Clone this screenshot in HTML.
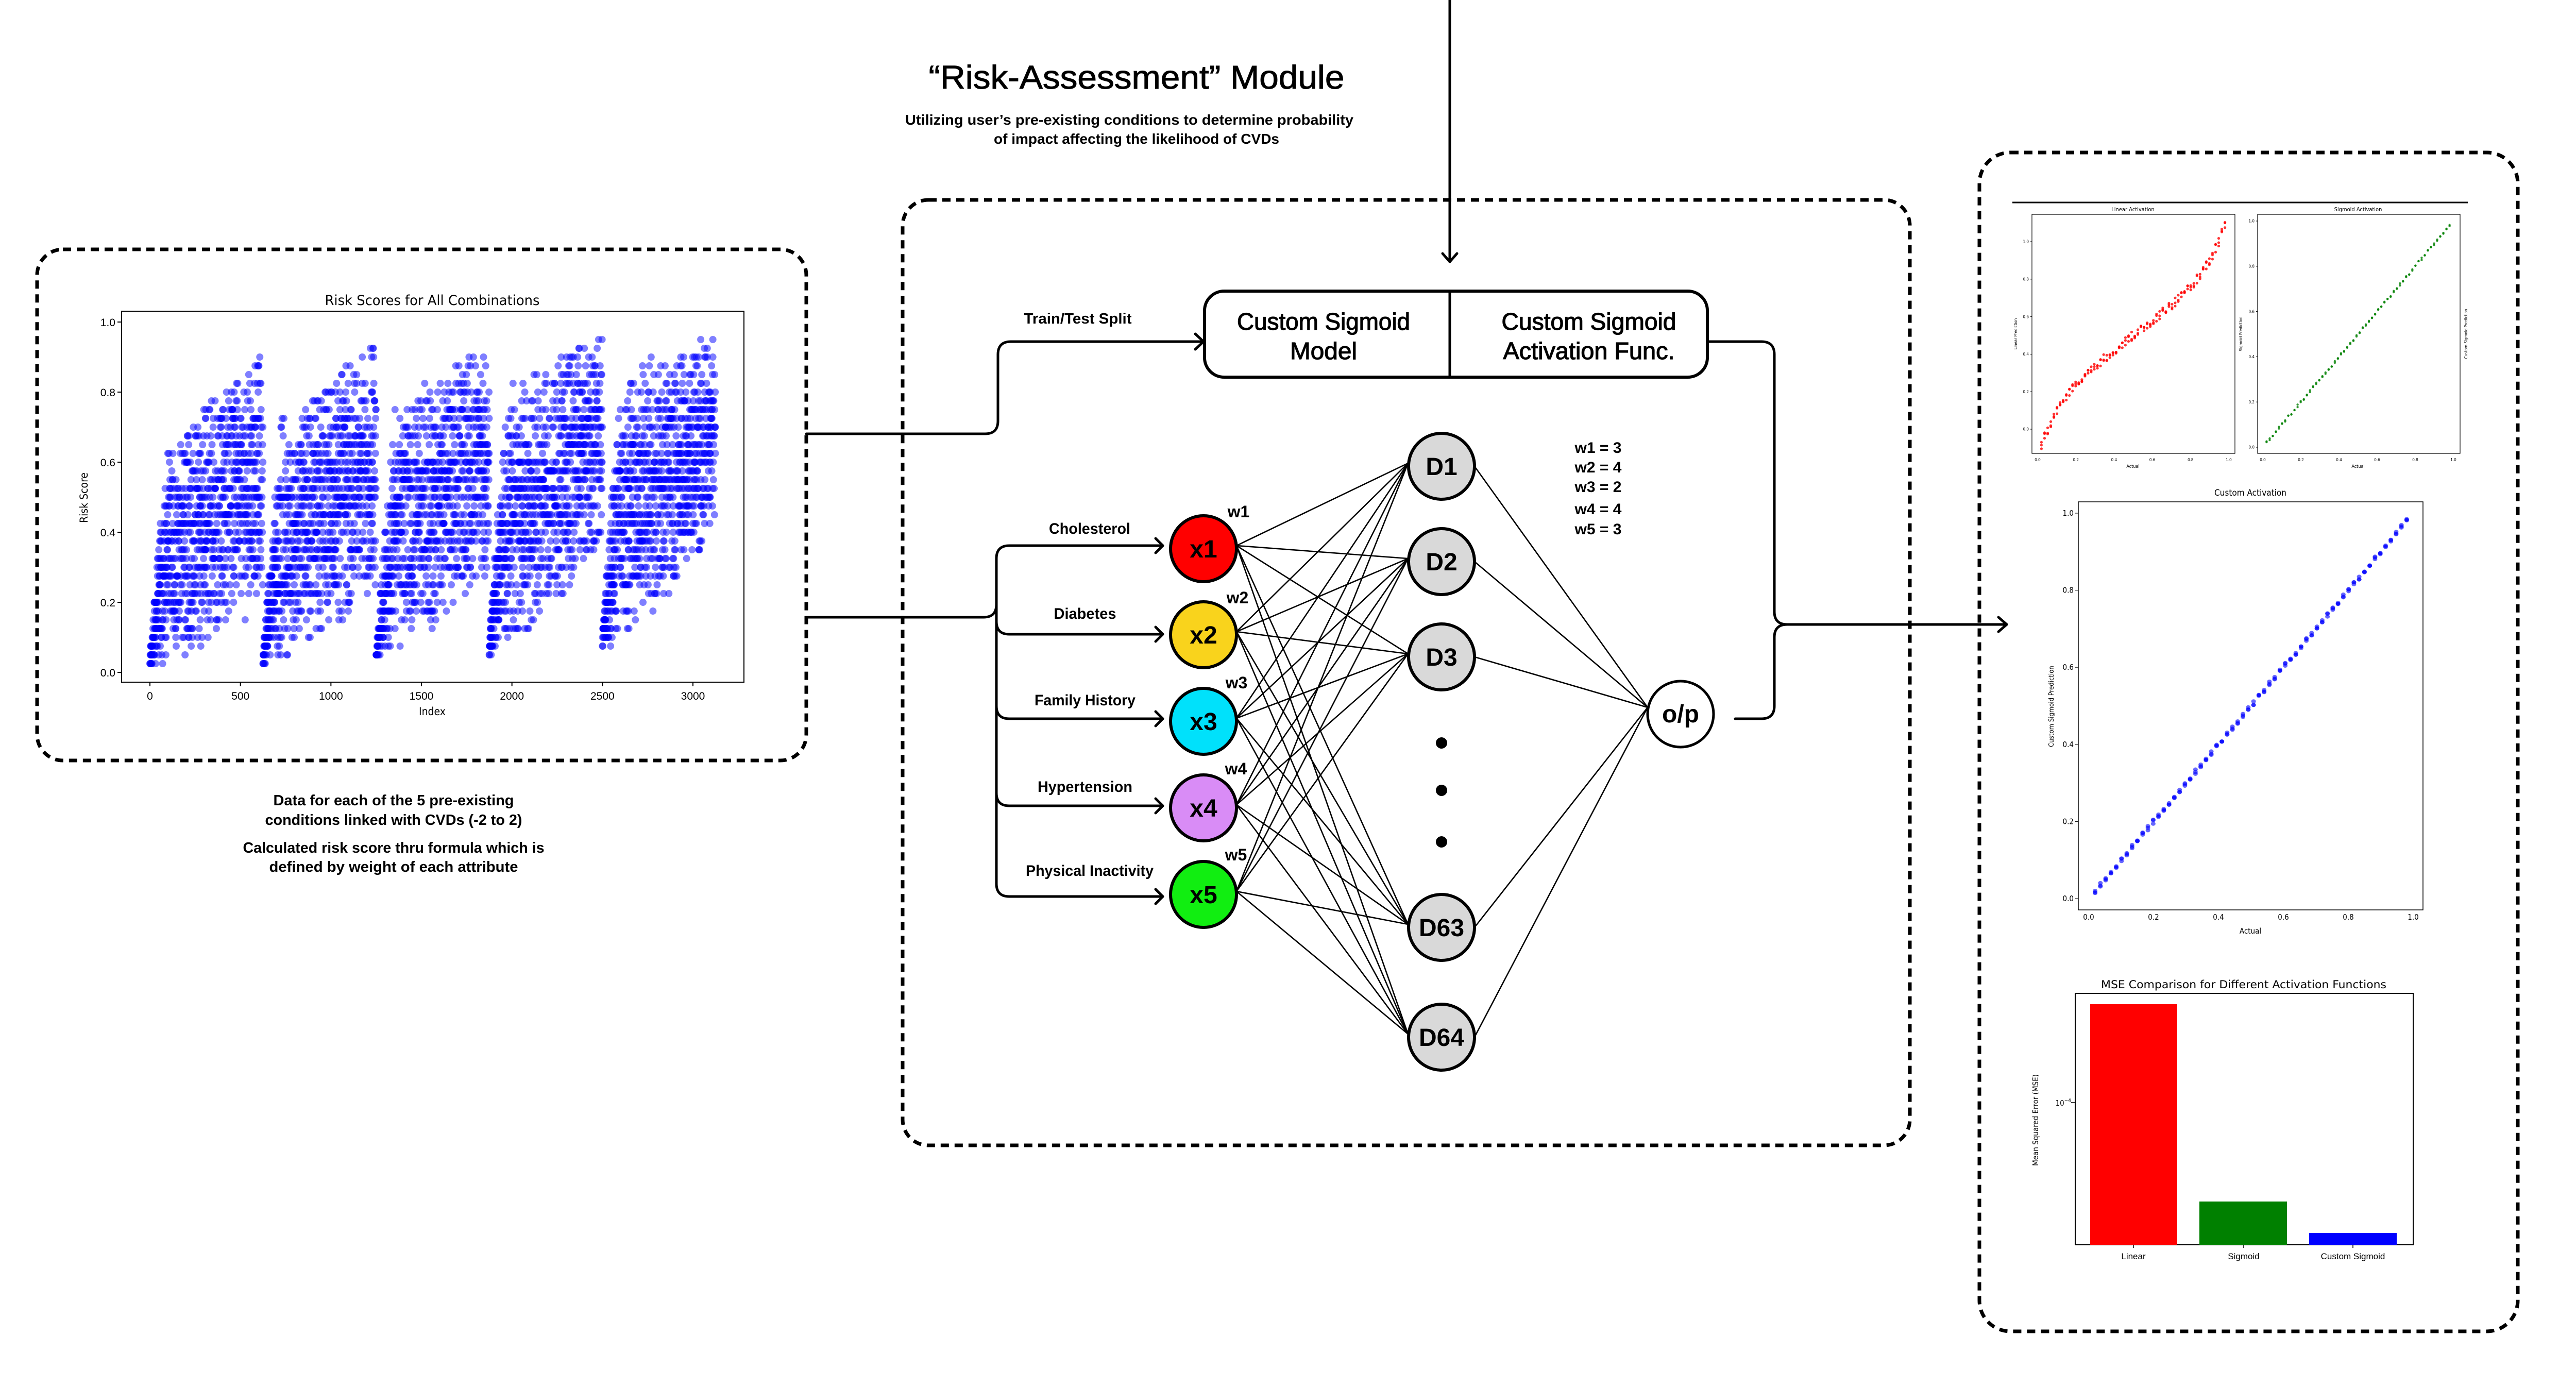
<!DOCTYPE html>
<html><head><meta charset="utf-8">
<style>
html,body{margin:0;padding:0;background:#fff;}
svg{display:block;}
text{font-family:"Liberation Sans",sans-serif;}
.m{font-family:"DejaVu Sans Condensed","DejaVu Sans","Liberation Sans",sans-serif;}
</style></head>
<body>
<svg id="s" width="5061" height="2692" viewBox="0 0 5061 2692" xmlns="http://www.w3.org/2000/svg">
<rect width="5061" height="2692" fill="#fff"/>

<text x="2206" y="172" font-size="64" text-anchor="middle" textLength="807" lengthAdjust="spacingAndGlyphs" stroke="#000" stroke-width="1">“Risk-Assessment” Module</text>
<text x="2192" y="242" font-size="28" font-weight="bold" text-anchor="middle" textLength="870" lengthAdjust="spacingAndGlyphs">Utilizing user’s pre-existing conditions to determine probability</text>
<text x="2206" y="279" font-size="28" font-weight="bold" text-anchor="middle" textLength="554" lengthAdjust="spacingAndGlyphs">of impact affecting the likelihood of CVDs</text>

<g fill="none" stroke="#000" stroke-width="7" stroke-dasharray="16 11">
<rect x="72" y="484" width="1493" height="992" rx="50"/>
<rect x="1752" y="388" width="1955" height="1835" rx="50"/>
<rect x="3842" y="296" width="1045" height="2288" rx="60"/>
</g>

<g fill="none" stroke="#000" stroke-width="5" stroke-linejoin="round" stroke-linecap="round">
<line x1="2814" y1="0" x2="2814" y2="508"/>
<path d="M2800 492 L2814 508 L2828 492"/>
<path d="M1565 842 H1912 Q1937 842 1937 817 V688 Q1937 663 1962 663 H2336"/>
<path d="M2320 648 L2336 663 L2320 678"/>
<path d="M1565 1198 H1909 Q1934 1198 1934 1173 V1084 Q1934 1059 1959 1059 H2257"/>
<path d="M1934 1173 V1715 Q1934 1740 1959 1740 H2257"/>
<path d="M1934 1206 Q1934 1231 1959 1231 H2257"/>
<path d="M1934 1370 Q1934 1395 1959 1395 H2257"/>
<path d="M1934 1539 Q1934 1564 1959 1564 H2257"/>
<path d="M2243 1045 L2257 1059 L2243 1073 M2243 1217 L2257 1231 L2243 1245 M2243 1381 L2257 1395 L2243 1409 M2243 1550 L2257 1564 L2243 1578 M2243 1726 L2257 1740 L2243 1754"/>
<path d="M3314 663 H3419 Q3444 663 3444 688 V1187 Q3444 1212 3469 1212 H3895"/>
<path d="M3879 1198 L3895 1212 L3879 1226"/>
<path d="M3469 1212 Q3444 1212 3444 1237 V1370 Q3444 1395 3419 1395 H3368"/>
</g>

<rect x="2338" y="565" width="976" height="167" rx="38" fill="#fff" stroke="#000" stroke-width="6"/>
<line x1="2814" y1="565" x2="2814" y2="732" stroke="#000" stroke-width="5"/>
<g font-size="46" text-anchor="middle" stroke="#000" stroke-width="1.2">
<text x="2569" y="640" textLength="336" lengthAdjust="spacingAndGlyphs">Custom Sigmoid</text>
<text x="2569" y="697" textLength="130" lengthAdjust="spacingAndGlyphs">Model</text>
<text x="3084" y="640" textLength="339" lengthAdjust="spacingAndGlyphs">Custom Sigmoid</text>
<text x="3084" y="697" textLength="333" lengthAdjust="spacingAndGlyphs">Activation Func.</text>
</g>
<text x="2092" y="628" font-size="29" text-anchor="middle" font-weight="bold" textLength="209" lengthAdjust="spacingAndGlyphs">Train/Test Split</text>

<g id="edges" stroke="#000" stroke-width="2.6" fill="none"></g>

<g font-size="30" text-anchor="middle" font-weight="bold">
<text x="2115" y="1036" textLength="158" lengthAdjust="spacingAndGlyphs">Cholesterol</text>
<text x="2106" y="1201" textLength="121" lengthAdjust="spacingAndGlyphs">Diabetes</text>
<text x="2106" y="1369" textLength="196" lengthAdjust="spacingAndGlyphs">Family History</text>
<text x="2106" y="1537" textLength="184" lengthAdjust="spacingAndGlyphs">Hypertension</text>
<text x="2115" y="1700" textLength="248" lengthAdjust="spacingAndGlyphs">Physical Inactivity</text>
</g>
<g font-size="32" text-anchor="middle" font-weight="bold">
<text x="2404" y="1004">w1</text>
<text x="2402" y="1171">w2</text>
<text x="2400" y="1336">w3</text>
<text x="2399" y="1503">w4</text>
<text x="2399" y="1670">w5</text>
</g>
<g font-size="30" text-anchor="middle" font-weight="bold">
<text x="3102" y="879">w1 = 3</text>
<text x="3102" y="917">w2 = 4</text>
<text x="3102" y="955">w3 = 2</text>
<text x="3102" y="998">w4 = 4</text>
<text x="3102" y="1037">w5 = 3</text>
</g>

<g stroke="#000" stroke-width="6">
<circle cx="2336" cy="1065" r="64" fill="#ff0000"/>
<circle cx="2336" cy="1232" r="64" fill="#f9d31c"/>
<circle cx="2336" cy="1400" r="64" fill="#00e1fb"/>
<circle cx="2336" cy="1568" r="64" fill="#d98cf6"/>
<circle cx="2336" cy="1736" r="64" fill="#11ee11"/>
<circle cx="2798" cy="905" r="64" fill="#d9d9d9"/>
<circle cx="2798" cy="1090" r="64" fill="#d9d9d9"/>
<circle cx="2798" cy="1275" r="64" fill="#d9d9d9"/>
<circle cx="2798" cy="1800" r="64" fill="#d9d9d9"/>
<circle cx="2798" cy="2013" r="64" fill="#d9d9d9"/>
<circle cx="3262" cy="1386" r="64" fill="#fff" stroke-width="5"/>
</g>
<g fill="#000"><circle cx="2798" cy="1442" r="11"/><circle cx="2798" cy="1534" r="11"/><circle cx="2798" cy="1634" r="11"/></g>
<g font-size="48" font-weight="bold" text-anchor="middle">
<text x="2336" y="1082">x1</text><text x="2336" y="1249">x2</text><text x="2336" y="1417">x3</text><text x="2336" y="1585">x4</text><text x="2336" y="1753">x5</text>
<text x="2798" y="922">D1</text><text x="2798" y="1107">D2</text><text x="2798" y="1292">D3</text><text x="2798" y="1817">D63</text><text x="2798" y="2030">D64</text>
<text x="3262" y="1402">o/p</text>
</g>

<g id="sc"></g>
<rect x="236" y="604" width="1208" height="720" fill="none" stroke="#000" stroke-width="2"/>
<text class="m" x="839" y="592" font-size="27" text-anchor="middle" textLength="417" lengthAdjust="spacingAndGlyphs">Risk Scores for All Combinations</text>
<g class="m" font-size="21" text-anchor="end" id="yt"></g>
<g class="m" font-size="21" text-anchor="middle" id="xt"></g>
<text class="m" x="839" y="1388" font-size="21" text-anchor="middle">Index</text>
<text class="m" x="0" y="0" font-size="21" text-anchor="middle" transform="translate(170,966) rotate(-90)">Risk Score</text>

<g font-size="29" text-anchor="middle" font-weight="bold">
<text x="764" y="1563" textLength="467" lengthAdjust="spacingAndGlyphs">Data for each of the 5 pre-existing</text>
<text x="764" y="1601" textLength="499" lengthAdjust="spacingAndGlyphs">conditions linked with CVDs (-2 to 2)</text>
<text x="764" y="1655" textLength="585" lengthAdjust="spacingAndGlyphs">Calculated risk score thru formula which is</text>
<text x="764" y="1692" textLength="483" lengthAdjust="spacingAndGlyphs">defined by weight of each attribute</text>
</g>

<line x1="3906" y1="393" x2="4790" y2="393" stroke="#000" stroke-width="3"/>
<rect x="3944" y="416" width="394" height="464" fill="none" stroke="#000" stroke-width="1.2"/>
<rect x="4382" y="416" width="393" height="464" fill="none" stroke="#000" stroke-width="1.2"/>
<text class="m" x="4140" y="410" font-size="11" text-anchor="middle">Linear Activation</text>
<text class="m" x="4577" y="410" font-size="11" text-anchor="middle">Sigmoid Activation</text>
<text class="m" x="4140" y="908" font-size="9" text-anchor="middle">Actual</text>
<text class="m" x="4577" y="908" font-size="9" text-anchor="middle">Actual</text>
<text class="m" font-size="8" text-anchor="middle" transform="translate(3915,648) rotate(-90)">Linear Prediction</text>
<text class="m" font-size="8" text-anchor="middle" transform="translate(4352,648) rotate(-90)">Sigmoid Prediction</text>
<text class="m" font-size="8" text-anchor="middle" transform="translate(4789,648) rotate(-90)">Custom Sigmoid Prediction</text>
<g id="small"></g>

<rect x="4034" y="974" width="669" height="792" fill="none" stroke="#000" stroke-width="1.5"/>
<text class="m" x="4368" y="962" font-size="17" text-anchor="middle">Custom Activation</text>
<text class="m" x="4368" y="1812" font-size="15" text-anchor="middle">Actual</text>
<text class="m" font-size="13" text-anchor="middle" transform="translate(3986,1371) rotate(-90)">Custom Sigmoid Prediction</text>
<g id="cust"></g>

<rect x="4028" y="1928" width="656" height="488" fill="none" stroke="#000" stroke-width="2"/>
<rect x="4057" y="1949" width="169" height="467" fill="#ff0000"/>
<rect x="4269" y="2332" width="170" height="84" fill="#008000"/>
<rect x="4482" y="2393" width="170" height="23" fill="#0000ff"/>
<text class="m" x="4355" y="1918" font-size="21" text-anchor="middle" textLength="554" lengthAdjust="spacingAndGlyphs">MSE Comparison for Different Activation Functions</text>
<g class="m" font-size="17" text-anchor="middle">
<text x="4141" y="2444">Linear</text><text x="4355" y="2444">Sigmoid</text><text x="4567" y="2444">Custom Sigmoid</text>
</g>
<g stroke="#000" stroke-width="1.5"><line x1="4141" y1="2416" x2="4141" y2="2422"/><line x1="4355" y1="2416" x2="4355" y2="2422"/><line x1="4567" y1="2416" x2="4567" y2="2422"/><line x1="4020" y1="2140" x2="4028" y2="2140"/></g>
<text class="m" x="4020" y="2146" font-size="15" text-anchor="end">10<tspan dy="-7" font-size="10">−4</tspan></text>
<text class="m" font-size="15" text-anchor="middle" transform="translate(3956,2174) rotate(-90)">Mean Squared Error (MSE)</text>
</svg>
<script>
(function(){
var NS="http://www.w3.org/2000/svg";
function el(p,t,a){var e=document.createElementNS(NS,t);for(var k in a)e.setAttribute(k,a[k]);p.appendChild(e);return e;}
var seed=12345;function rnd(){seed=(seed*1103515245+12345)%2147483648;return seed/2147483648;}
var E=document.getElementById('edges');
var xs=[1065,1232,1400,1568,1736], ds=[905,1090,1275,1800,2013];
xs.forEach(function(a){ds.forEach(function(d){el(E,'line',{x1:2400,y1:a-6,x2:2733,y2:d-6});});});
ds.forEach(function(d){el(E,'line',{x1:2862,y1:d,x2:3198,y2:1373});});
var S=document.getElementById('sc');
var loS=[0.02,0.03,0.04,0.06,0.08],loE=[0.2,0.25,0.3,0.36,0.4],tS=[0.6,0.68,0.72,0.78,0.82],tE=[0.93,0.95,0.96,0.97,0.98];
for(var i=0;i<3125;i++){
 var s=Math.floor(i/625),t=(i%625)/625;
 var lo=loS[s]+(loE[s]-loS[s])*Math.pow(t,1.6);
 var top=tS[s]+(tE[s]-tS[s])*t;
 var hi=lo+(top-lo)*Math.pow(Math.min(1,t/0.16),0.8);
 var cnt=rnd()<0.45?2:1;
 for(var n=0;n<cnt;n++){
  var r=(rnd()+rnd()+rnd())/3; r=0.5+(r-0.5)*1.5; if(r<0)r=rnd()*0.3; if(r>1)r=1-rnd()*0.3;
  var v=lo+(hi-lo)*r; v=Math.round(v*40)/40;
  el(S,'circle',{cx:291+i*(1054/3000),cy:1305-v*680,r:7,fill:'#0000ff','fill-opacity':0.5});
 }
}
var yt=document.getElementById('yt'),xt=document.getElementById('xt');
for(var k=0;k<=5;k++){var yv=k*0.2,yy=1305-yv*680;
 var tx=el(yt,'text',{x:224,y:yy+8});tx.textContent=yv.toFixed(1);
 el(S.parentNode,'line',{x1:228,y1:yy,x2:236,y2:yy,stroke:'#000','stroke-width':2});}
for(var k=0;k<=6;k++){var xv=k*500,xx=291+xv*1054/3000;
 var tx=el(xt,'text',{x:xx,y:1358});tx.textContent=String(xv);
 el(S.parentNode,'line',{x1:xx,y1:1324,x2:xx,y2:1332,stroke:'#000','stroke-width':2});}
var G=document.getElementById('small');
for(var q=0;q<60;q++){var a=0.02+q*0.96/59;var d=a-0.5;
 var p=0.5+0.8*d+8*Math.pow(d,5);
 for(var m=0;m<3;m++){var pp=p+(rnd()-0.5)*0.05;
  el(G,'circle',{cx:3955+a*371,cy:833-pp*364,r:2.6,fill:'#ff0000','fill-opacity':0.8});}
 for(var m=0;m<2;m++){var pg=a+(rnd()-0.5)*0.012;
  el(G,'circle',{cx:4392+a*370,cy:868-pg*439,r:2.2,fill:'#008000','fill-opacity':0.8});}
}
var C=document.getElementById('cust');
for(var q=0;q<60;q++){var a=0.02+q*0.96/59;
 for(var m=0;m<3;m++){var pg=a+(rnd()-0.5)*0.012;
  el(C,'ellipse',{cx:4054+a*630,cy:1744-pg*748,rx:4.5,ry:4,fill:'#0000ff','fill-opacity':0.6});}}
function ticks(g,x0,y0,sx,sy,fs,tl){for(var k=0;k<=5;k++){var v=k*0.2;
 var t1=el(g,'text',{x:x0-tl-3,y:y0-v*sy+fs/3,'font-size':fs,'text-anchor':'end','class':'m'});t1.textContent=v.toFixed(1);
 el(g,'line',{x1:x0-tl,y1:y0-v*sy,x2:x0,y2:y0-v*sy,stroke:'#000'});}}
function xticks(g,x0,y0,sx,fs,yb){for(var k=0;k<=5;k++){var v=k*0.2;
 var t1=el(g,'text',{x:x0+v*sx,y:yb,'font-size':fs,'text-anchor':'middle','class':'m'});t1.textContent=v.toFixed(1);}}
ticks(G,3944,833,0,364,8,3); ticks(G,4382,868,0,439,8,3); ticks(C,4034,1744,0,748,15,6);
xticks(G,3955,0,371,8,895); xticks(G,4392,0,370,8,895); xticks(C,4054,0,630,15,1785);
})();
</script>
</body></html>
